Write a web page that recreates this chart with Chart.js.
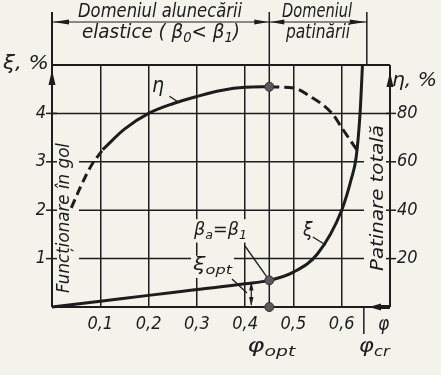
<!DOCTYPE html>
<html>
<head>
<meta charset="utf-8">
<script src="https://cdn.jsdelivr.net/npm/chart.js@4"></script>
<style>
  html, body { margin: 0; padding: 0; background: #f3f3ec; }
</style>
</head>
<body>
<canvas id="c" width="441" height="375"></canvas>
<script>
// tick values
const xTicks = [0.1, 0.2, 0.3, 0.4, 0.5, 0.6];
const xiTicks = [1, 2, 3, 4];
const etaTicks = [20, 40, 60, 80];

// slip curve xi(phi), %
const phiXi = [0, 0.1, 0.2, 0.3, 0.4, 0.45, 0.5, 0.55, 0.6, 0.62, 0.63, 0.638, 0.643];
const xiVals = [0, 0.12, 0.24, 0.36, 0.48, 0.55, 0.72, 1.1, 2.0, 2.65, 3.1, 4.0, 5.0];

// efficiency curve eta(phi), %
const phiEtaLeft = [0.04, 0.06, 0.08, 0.105];
const etaLeft = [41, 50, 58, 65];
const phiEtaMid = [0.105, 0.15, 0.2, 0.25, 0.3, 0.35, 0.4, 0.45];
const etaMid = [65, 73.5, 80, 84, 87, 89.5, 90.8, 91];
const phiEtaRight = [0.45, 0.5, 0.535, 0.58, 0.602, 0.631];
const etaRight = [91, 90.5, 87, 80, 73.5, 65];

// optimum / critical points
const phiOpt = 0.45;
const xiOpt = 0.55;
const etaOpt = 91;
const phiCr = 0.652;

const INK = '#1c1c1c';
const BG = '#f3f3ec';
const FAM = "'DejaVu Sans Condensed', 'Liberation Sans Narrow', 'Liberation Sans', sans-serif";

const pts = (xs, ys) => xs.map((v, i) => ({ x: v, y: ys[i] }));

function line(ctx, x1, y1, x2, y2, w) {
  ctx.lineWidth = w;
  ctx.beginPath(); ctx.moveTo(x1, y1); ctx.lineTo(x2, y2); ctx.stroke();
}

// filled arrow head, tip at (x,y), pointing in direction (dx,dy)
function head(ctx, x, y, dx, dy, len, hw) {
  const bx = x - dx * len, by = y - dy * len;
  ctx.beginPath();
  ctx.moveTo(x, y);
  ctx.lineTo(bx - dy * hw, by + dx * hw);
  ctx.lineTo(bx + dy * hw, by - dx * hw);
  ctx.closePath(); ctx.fill();
}

// text made of parts, some as subscripts; optionally squeezed to a width
function rich(ctx, parts, x, y, size, fitW, bg) {
  const f = s => `italic ${s}px ${FAM}`;
  let w = 0;
  parts.forEach(p => { ctx.font = f(p.sub ? size * 0.72 : size); w += ctx.measureText(p.t).width; });
  const k = fitW ? fitW / w : 1;
  if (bg) {
    ctx.fillStyle = BG;
    ctx.fillRect(x - 2, y - size * 0.6, w * k + 4, size * 1.3);
    ctx.fillStyle = INK;
  }
  ctx.save();
  ctx.translate(x, y); ctx.scale(k, 1);
  ctx.textAlign = 'left'; ctx.textBaseline = 'middle';
  let cx = 0;
  parts.forEach(p => {
    ctx.font = f(p.sub ? size * 0.72 : size);
    ctx.fillText(p.t, cx, p.sub ? size * 0.3 : 0);
    cx += ctx.measureText(p.t).width;
  });
  ctx.restore();
}

function fitText(ctx, s, cx, cy, w, size, rot) {
  ctx.save();
  ctx.translate(cx, cy);
  if (rot) ctx.rotate(rot);
  ctx.font = `italic ${size}px ${FAM}`;
  const k = w / ctx.measureText(s).width;
  ctx.scale(k, 1);
  ctx.textAlign = 'center'; ctx.textBaseline = 'middle';
  ctx.fillText(s, 0, 0);
  ctx.restore();
}

const sketch = {
  id: 'sketch',
  beforeDatasetsDraw(chart) {
    const { ctx, chartArea: a, scales: { x, y, y1 } } = chart;
    ctx.save();
    ctx.strokeStyle = INK; ctx.fillStyle = INK;

    // horizontal grid: lower lines leave room for the side captions
    xiTicks.forEach(v => {
      const py = y.getPixelForValue(v);
      if (v >= 4) line(ctx, a.left, py, a.right, py, 1.5);
      else line(ctx, a.left + 27, py, a.right - 26, py, 1.5);
      line(ctx, a.left - 6, py, a.left + 5, py, 1.5);
      line(ctx, a.right - 4, py, a.right + 6, py, 1.5);
    });

    // frame
    line(ctx, a.left, a.top, a.right, a.top, 2);
    line(ctx, a.left, a.bottom, a.left, 12, 2);
    line(ctx, a.right, a.bottom, a.right, a.top, 2);
    line(ctx, a.left, a.bottom, a.right - 2, a.bottom, 2);
    head(ctx, a.left, a.top + 5, 0, -1, 15, 3.5);
    head(ctx, a.right, a.top + 7, 0, -1, 15, 3.5);
    head(ctx, a.right - 21, a.bottom, -1, 0, 12, 3.5);
    line(ctx, a.right - 12, a.bottom, a.right, a.bottom, 4);

    // optimum and critical lines
    const xo = x.getPixelForValue(phiOpt);
    const xc = x.getPixelForValue(phiCr);
    line(ctx, xo, 12, xo, a.bottom + 5, 1.5);
    line(ctx, xc, 12, xc, a.top, 1.5);
    line(ctx, xc - 3, a.bottom, xc - 3, a.bottom + 27, 1.5);

    // domain dimension line
    const yd = 22;
    line(ctx, a.left, yd, xc, yd, 1.2);
    head(ctx, a.left + 1, yd, -1, 0, 16, 2.5);
    head(ctx, xo - 1, yd, 1, 0, 14, 2.5);
    head(ctx, xo + 1, yd, -1, 0, 14, 2.5);
    head(ctx, xc - 1, yd, 1, 0, 16, 2.5);

    // header captions
    fitText(ctx, 'Domeniul alunecării', 160, 12, 164, 19);
    rich(ctx, [{ t: 'elastice ( ' }, { t: 'β' }, { t: '0', sub: 1 }, { t: '< β' }, { t: '1', sub: 1 }, { t: ')' }], 82, 33, 19, 158);
    fitText(ctx, 'Domeniul', 317, 12, 70, 19);
    fitText(ctx, 'patinării', 318, 33, 64, 19);

    // side captions
    fitText(ctx, 'Funcționare în gol', a.left + 12, 218, 150, 18, -Math.PI / 2);
    fitText(ctx, 'Patinare totală', a.right - 12, 198, 146, 18, -Math.PI / 2);

    // axis titles
    rich(ctx, [{ t: 'ξ, %' }], 3, 64, 20, 46);
    rich(ctx, [{ t: 'η, %' }], 392, 81, 20, 45);
    rich(ctx, [{ t: 'φ' }], 378, 325, 19);
    rich(ctx, [{ t: 'φ' }, { t: 'opt', sub: 1 }], xo - 22, 347, 19, 48);
    rich(ctx, [{ t: 'φ' }, { t: 'cr', sub: 1 }], xc - 8, 347, 19, 31);

    // curve labels and leaders
    rich(ctx, [{ t: 'η' }], 152, 87, 21);
    const pe = [x.getPixelForValue(0.262), y1.getPixelForValue(84.6)];
    line(ctx, pe[0] - 9, pe[1] - 6, pe[0], pe[1], 1.3);

    rich(ctx, [{ t: 'ξ' }], 303, 231, 19);
    const px = [x.getPixelForValue(0.567), y.getPixelForValue(1.28)];
    line(ctx, px[0] - 13, px[1] - 8, px[0], px[1], 1.3);

    const po = [xo, y.getPixelForValue(xiOpt)];
    rich(ctx, [{ t: 'β' }, { t: 'a', sub: 1 }, { t: '=β' }, { t: '1', sub: 1 }], 194, 230, 18, 53, true);
    line(ctx, 245, 246, po[0], po[1], 1.3);

    rich(ctx, [{ t: 'ξ' }, { t: 'opt', sub: 1 }], 193, 266, 17, 39, true);
    line(ctx, 232, 279, 247, 293, 1.3);
    const xa = xo - 18;
    line(ctx, xa, po[1] + 2, xa, a.bottom - 2, 1.2);
    head(ctx, xa, po[1] + 1, 0, -1, 9, 2.2);
    head(ctx, xa, a.bottom - 1, 0, 1, 9, 2.2);

    ctx.restore();
  }
};

const tickFont = { family: FAM, size: 18, style: 'italic' };

new Chart(document.getElementById('c'), {
  type: 'line',
  data: {
    datasets: [
      {
        label: 'opt xi',
        data: [{ x: phiOpt, y: xiOpt }, { x: phiOpt, y: 0 }],
        showLine: false, pointRadius: 4.5, pointBackgroundColor: '#5a5a5a',
        pointBorderColor: '#333', pointBorderWidth: 1, clip: false
      },
      {
        label: 'opt eta',
        yAxisID: 'y1',
        data: [{ x: phiOpt, y: etaOpt }],
        showLine: false, pointRadius: 4.5, pointBackgroundColor: '#5a5a5a',
        pointBorderColor: '#333', pointBorderWidth: 1, clip: false
      },
      {
        label: 'xi',
        data: pts(phiXi, xiVals),
        borderColor: INK, borderWidth: 3, pointRadius: 0,
        cubicInterpolationMode: 'monotone', clip: 4
      },
      {
        label: 'eta',
        yAxisID: 'y1',
        data: pts(phiEtaMid, etaMid),
        borderColor: INK, borderWidth: 3, pointRadius: 0,
        cubicInterpolationMode: 'monotone'
      },
      {
        label: 'eta idle',
        yAxisID: 'y1',
        data: pts(phiEtaLeft, etaLeft),
        borderColor: INK, borderWidth: 3, borderDash: [9, 5], pointRadius: 0,
        cubicInterpolationMode: 'monotone'
      },
      {
        label: 'eta slip',
        yAxisID: 'y1',
        data: pts(phiEtaRight, etaRight),
        borderColor: INK, borderWidth: 3, borderDash: [10, 5], pointRadius: 0,
        cubicInterpolationMode: 'monotone'
      }
    ]
  },
  options: {
    responsive: false,
    animation: false,
    events: [],
    layout: { padding: { top: 65, left: 0, right: 0, bottom: 0 } },
    plugins: { legend: { display: false }, tooltip: { enabled: false } },
    scales: {
      x: {
        type: 'linear', min: 0, max: 0.7,
        afterBuildTicks: s => { s.ticks = xTicks.map(v => ({ value: v })); },
        afterFit: s => { s.height = 68; },
        ticks: {
          font: tickFont, color: INK, padding: 7, maxRotation: 0, autoSkip: false,
          callback: v => String(v).replace('.', ',')
        },
        grid: { color: INK, lineWidth: 1.5, drawTicks: false },
        border: { display: false }
      },
      y: {
        position: 'left', min: 0, max: 5,
        afterBuildTicks: s => { s.ticks = xiTicks.map(v => ({ value: v })); },
        afterFit: s => { s.width = 52; },
        ticks: { font: tickFont, color: INK, padding: 6 },
        grid: { display: false, drawTicks: false },
        border: { display: false }
      },
      y1: {
        position: 'right', min: 0, max: 100,
        afterBuildTicks: s => { s.ticks = etaTicks.map(v => ({ value: v })); },
        afterFit: s => { s.width = 51; },
        ticks: { font: tickFont, color: INK, padding: 7 },
        grid: { display: false, drawTicks: false },
        border: { display: false }
      }
    }
  },
  plugins: [sketch]
});
</script>
</body>
</html>
